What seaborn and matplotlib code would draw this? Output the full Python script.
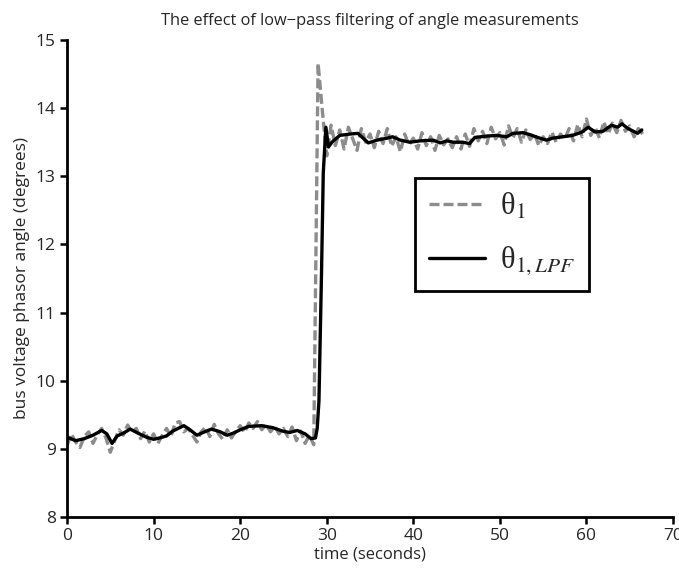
import numpy as np
import pandas as pd
import matplotlib
matplotlib.use("Agg")
import matplotlib.pyplot as plt
import seaborn as sns

# ========= DATA =========
TITLE = "The effect of low\u2212pass filtering of angle measurements"
X_LABEL = "time (seconds)"
Y_LABEL = "bus voltage phasor angle (degrees)"
LABEL_RAW = "θ$_1$"
LABEL_LPF = "θ$_{1,LPF}$"

# raw angle measurement, one sample every 0.5 s from t = 0
RAW_STEP = 0.5
theta_raw = [
    9.05, 9.22, 9.10, 9.02, 9.18, 9.25, 9.08, 9.21, 9.30, 9.16,
    8.95, 9.12, 9.28, 9.20, 9.35, 9.24, 9.30, 9.15, 9.26, 9.10,
    9.22, 9.08, 9.20, 9.30, 9.18, 9.38, 9.40, 9.25, 9.30, 9.20,
    9.10, 9.25, 9.32, 9.18, 9.36, 9.22, 9.14, 9.28, 9.16, 9.26,
    9.34, 9.24, 9.38, 9.30, 9.40, 9.28, 9.36, 9.25, 9.33, 9.22,
    9.30, 9.18, 9.32, 9.12, 9.26, 9.08, 9.20, 9.06, 14.66, 13.95,
    13.30, 13.75, 13.45, 13.68, 13.40, 13.72, 13.55, 13.38, 13.70, 13.50,
    13.62, 13.42, 13.66, 13.48, 13.70, 13.44, 13.58, 13.36, 13.62, 13.46,
    13.56, 13.40, 13.64, 13.45, 13.58, 13.38, 13.60, 13.46, 13.55, 13.42,
    13.58, 13.40, 13.62, 13.44, 13.70, 13.52, 13.66, 13.48, 13.72, 13.55,
    13.64, 13.46, 13.74, 13.56, 13.70, 13.50, 13.68, 13.54, 13.62, 13.45,
    13.58, 13.48, 13.65, 13.50, 13.62, 13.55, 13.70, 13.52, 13.76, 13.58,
    13.84, 13.60, 13.72, 13.56, 13.80, 13.62, 13.78, 13.64, 13.82, 13.66,
    13.74, 13.58, 13.70, 13.62,
]

# low-pass filtered angle (time, value)
t_lpf = [
    0.0, 1.0, 2.0, 3.0, 4.0, 4.6, 5.2, 5.8, 6.5, 7.3,
    8.2, 9.2, 10.0, 10.7, 11.5, 12.2, 13.0, 13.5, 14.2, 15.0,
    15.7, 16.7, 17.7, 18.5, 19.2, 20.0, 21.0, 22.5, 23.8, 24.9,
    25.7, 26.6, 27.5, 28.2, 28.7, 28.9, 29.1, 29.4, 29.6, 29.9,
    30.2, 30.6, 31.5, 32.7, 33.6, 34.2, 34.8, 35.8, 37.0, 37.6,
    38.5, 39.6, 40.8, 42.3, 43.1, 43.9, 44.6, 45.7, 46.5, 47.1,
    48.5, 49.6, 50.8, 51.5, 52.7, 53.5, 54.6, 55.4, 56.1, 57.3,
    58.4, 59.5, 60.2, 61.0, 61.9, 62.9, 63.6, 64.1, 64.8, 65.9,
    66.4,
]
theta_lpf = [
    9.17, 9.12, 9.15, 9.20, 9.27, 9.22, 9.08, 9.19, 9.23, 9.29,
    9.23, 9.17, 9.14, 9.16, 9.19, 9.26, 9.31, 9.34, 9.28, 9.20,
    9.24, 9.29, 9.25, 9.20, 9.23, 9.28, 9.33, 9.34, 9.31, 9.26,
    9.24, 9.27, 9.22, 9.15, 9.16, 9.30, 9.70, 11.60, 13.05, 13.72,
    13.43, 13.50, 13.60, 13.62, 13.63, 13.56, 13.49, 13.53, 13.56, 13.58,
    13.53, 13.50, 13.52, 13.53, 13.49, 13.52, 13.50, 13.50, 13.48, 13.57,
    13.59, 13.60, 13.58, 13.63, 13.64, 13.61, 13.56, 13.53, 13.56, 13.58,
    13.60, 13.65, 13.72, 13.65, 13.66, 13.75, 13.72, 13.77, 13.70, 13.63,
    13.68,
]

X_TICKS = [0, 10, 20, 30, 40, 50, 60, 70]
Y_TICKS = [8, 9, 10, 11, 12, 13, 14, 15]

df_raw = pd.DataFrame({"t": np.arange(len(theta_raw)) * RAW_STEP, "theta": theta_raw})
df_lpf = pd.DataFrame({"t": t_lpf, "theta": theta_lpf})

# ========= PLOT =========
sns.set_style("ticks")
plt.rcParams["font.family"] = ["Open Sans", "DejaVu Sans"]
plt.rcParams["mathtext.fontset"] = "stix"

fig = plt.figure(figsize=(6.79, 5.69), dpi=100)
ax = fig.add_axes([0.0987, 0.0914, 0.8925, 0.8383])

sns.lineplot(data=df_raw, x="t", y="theta", ax=ax, color="#8c8c8c",
             linewidth=2.4, linestyle=(0, (3.0, 1.2)), label=LABEL_RAW)
sns.lineplot(data=df_lpf, x="t", y="theta", ax=ax, color="black",
             linewidth=2.4, label=LABEL_LPF)

ax.set_xlim(0, 70)
ax.set_ylim(8, 15)
ax.set_xticks(X_TICKS)
ax.set_yticks(Y_TICKS)
ax.tick_params(axis="both", labelsize=12.5, length=5, width=1.8,
               direction="out", color="black", pad=3)
for s in ["left", "bottom"]:
    ax.spines[s].set_linewidth(2.0)
    ax.spines[s].set_color("black")
sns.despine(ax=ax)

ax.set_title(TITLE, fontsize=11.8, pad=11)
ax.set_xlabel(X_LABEL, fontsize=12, labelpad=2)
ax.set_ylabel(Y_LABEL, fontsize=12.5, labelpad=4)

leg = ax.legend(loc="upper left", bbox_to_anchor=(0.574, 0.711),
                prop={"family": "Liberation Serif", "size": 22},
                frameon=True, fancybox=False, framealpha=1,
                edgecolor="black", handlelength=1.85, handletextpad=0.5,
                borderpad=0.45, labelspacing=0.75, borderaxespad=0)
leg.get_frame().set_linewidth(2.0)

fig.savefig("out.png", dpi=100)
